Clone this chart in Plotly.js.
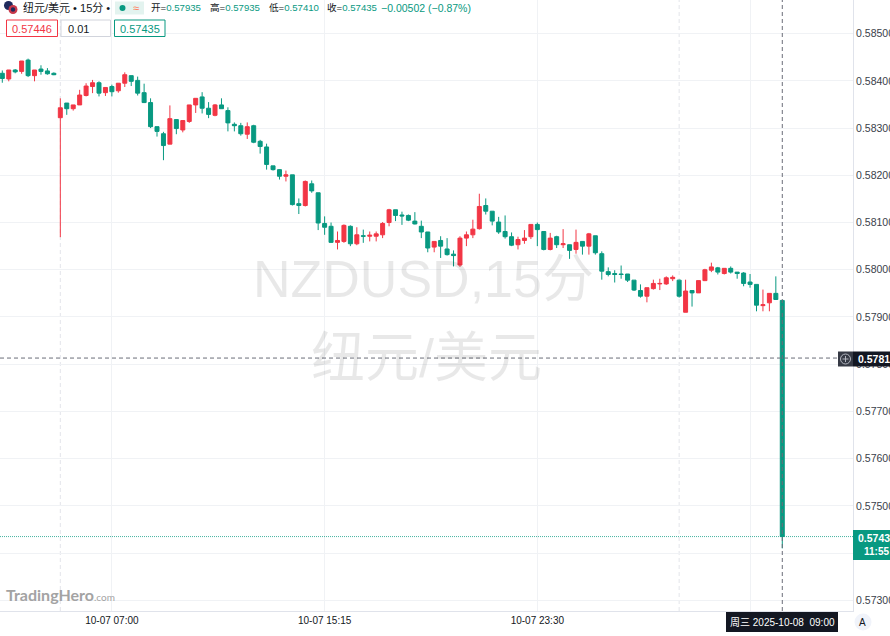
<!DOCTYPE html>
<html><head><meta charset="utf-8">
<script src="https://cdn.plot.ly/plotly-3.0.1.min.js"></script>
<style>html,body{margin:0;padding:0;background:#fff;overflow:hidden}#chart{width:890px;height:636px}</style>
</head><body><div id="chart"></div>
<script>
// ---------------- data ----------------
const startTime = '2025-10-07 02:45';
const barMinutes = 15;

const openP = [0.58416,0.58404,0.58423,0.58420,0.58444,0.58411,0.58425,0.58421,0.58416,0.58322,
0.58353,0.58341,0.58349,0.58369,0.58388,0.58396,0.58375,0.58388,0.58379,0.58395,
0.58411,0.58401,0.58375,0.58354,0.58303,0.58288,0.58266,0.58318,0.58296,0.58314,
0.58349,0.58366,0.58342,0.58327,0.58349,0.58337,0.58308,0.58305,0.58287,0.58305,
0.58272,0.58260,0.58220,0.58212,0.58198,0.58201,0.58140,0.58136,0.58182,0.58163,
0.58098,0.58092,0.58058,0.58060,0.58092,0.58055,0.58072,0.58071,0.58071,0.58074,
0.58100,0.58127,0.58116,0.58115,0.58103,0.58092,0.58080,0.58048,0.58062,0.58044,
0.58033,0.58010,0.58067,0.58074,0.58087,0.58136,0.58124,0.58101,0.58081,0.58070,
0.58053,0.58062,0.58070,0.58096,0.58081,0.58043,0.58070,0.58053,0.58053,0.58043,
0.58060,0.58050,0.58072,0.58034,0.57996,0.57992,0.57991,0.57991,0.57978,0.57956,
0.57944,0.57960,0.57970,0.57970,0.57981,0.57978,0.57910,0.57956,0.57951,0.57977,
0.57999,0.58004,0.57992,0.58003,0.57995,0.57993,0.57974,0.57969,0.57924,0.57930,
0.57950,0.57935];

const highP = [0.58422,0.58423,0.58425,0.58442,0.58447,0.58423,0.58433,0.58427,0.58418,0.58363,
0.58353,0.58349,0.58381,0.58395,0.58402,0.58399,0.58386,0.58392,0.58395,0.58418,
0.58411,0.58409,0.58394,0.58363,0.58303,0.58292,0.58348,0.58318,0.58316,0.58349,
0.58363,0.58376,0.58355,0.58351,0.58363,0.58344,0.58312,0.58311,0.58312,0.58307,
0.58275,0.58267,0.58220,0.58213,0.58210,0.58201,0.58151,0.58189,0.58189,0.58163,
0.58113,0.58100,0.58081,0.58096,0.58094,0.58090,0.58085,0.58081,0.58081,0.58101,
0.58129,0.58127,0.58123,0.58117,0.58122,0.58104,0.58080,0.58060,0.58071,0.58067,
0.58041,0.58071,0.58081,0.58106,0.58161,0.58151,0.58124,0.58112,0.58115,0.58079,
0.58070,0.58084,0.58096,0.58100,0.58081,0.58078,0.58072,0.58086,0.58053,0.58085,
0.58060,0.58078,0.58072,0.58039,0.58005,0.57999,0.58009,0.57991,0.57978,0.57969,
0.57962,0.57979,0.57981,0.57986,0.57988,0.57979,0.57979,0.57956,0.57977,0.58002,
0.58015,0.58006,0.58003,0.58007,0.57995,0.57995,0.57991,0.57969,0.57958,0.57950,
0.57986,0.57935];

const lowP = [0.58396,0.58399,0.58416,0.58415,0.58408,0.58399,0.58413,0.58413,0.58412,0.58069,
0.58328,0.58337,0.58349,0.58367,0.58374,0.58367,0.58368,0.58367,0.58375,0.58387,
0.58389,0.58369,0.58353,0.58300,0.58282,0.58232,0.58266,0.58287,0.58291,0.58311,
0.58332,0.58331,0.58321,0.58325,0.58341,0.58293,0.58293,0.58284,0.58277,0.58268,
0.58246,0.58212,0.58210,0.58191,0.58187,0.58136,0.58118,0.58134,0.58163,0.58084,
0.58074,0.58057,0.58043,0.58057,0.58050,0.58052,0.58057,0.58060,0.58060,0.58067,
0.58092,0.58103,0.58095,0.58103,0.58096,0.58067,0.58037,0.58037,0.58025,0.58030,
0.58007,0.58006,0.58050,0.58067,0.58085,0.58117,0.58094,0.58076,0.58066,0.58050,
0.58043,0.58055,0.58065,0.58050,0.58041,0.58041,0.58046,0.58046,0.58023,0.58034,
0.58032,0.58032,0.58032,0.57979,0.57986,0.57973,0.57981,0.57974,0.57955,0.57941,
0.57931,0.57958,0.57957,0.57968,0.57976,0.57941,0.57910,0.57922,0.57951,0.57976,
0.57995,0.57990,0.57990,0.57992,0.57981,0.57965,0.57962,0.57912,0.57912,0.57912,
0.57936,0.57410];

const closeP = [0.58405,0.58423,0.58419,0.58442,0.58411,0.58423,0.58420,0.58415,0.58413,0.58343,
0.58341,0.58349,0.58370,0.58389,0.58396,0.58374,0.58386,0.58377,0.58395,0.58413,
0.58399,0.58374,0.58354,0.58303,0.58293,0.58263,0.58320,0.58299,0.58316,0.58349,
0.58363,0.58342,0.58329,0.58349,0.58341,0.58311,0.58305,0.58288,0.58303,0.58270,
0.58261,0.58223,0.58212,0.58198,0.58201,0.58138,0.58136,0.58187,0.58167,0.58099,
0.58090,0.58058,0.58062,0.58094,0.58055,0.58074,0.58071,0.58073,0.58076,0.58098,
0.58127,0.58115,0.58114,0.58105,0.58097,0.58080,0.58046,0.58060,0.58050,0.58032,
0.58030,0.58067,0.58074,0.58086,0.58134,0.58124,0.58103,0.58080,0.58070,0.58052,
0.58064,0.58067,0.58096,0.58085,0.58043,0.58067,0.58053,0.58055,0.58041,0.58058,
0.58050,0.58076,0.58036,0.57997,0.57990,0.57990,0.57990,0.57978,0.57957,0.57944,
0.57962,0.57971,0.57971,0.57983,0.57984,0.57944,0.57955,0.57951,0.57977,0.58000,
0.58006,0.57995,0.58003,0.57995,0.57992,0.57971,0.57969,0.57925,0.57926,0.57950,
0.57937,0.57435];

const xTickVals = ['2025-10-07 07:00','2025-10-07 15:15','2025-10-07 23:30','2025-10-08 07:45'];
const xTickText = ['10-07 07:00','10-07 15:15','10-07 23:30',''];
const sessionStarts = ['2025-10-07 05:00','2025-10-08 05:00'];
const crosshairPrice = 0.57813;
const crosshairLabel = '周三 2025-10-08  09:00';
const bidPrice = '0.57446', spreadText = '0.01', askPrice = '0.57435';
const countdown = '11:55';
const symbolText = '纽元/美元 • 15分 •';
const watermark1 = 'NZDUSD,15分', watermark2 = '纽元/美元';

// ---------------- build ----------------
function buildTimes(n){
  const [d,t] = startTime.split(' ');
  const [Y,M,D] = d.split('-').map(Number), [h,m] = t.split(':').map(Number);
  const t0 = Date.UTC(Y,M-1,D,h,m);
  const p = v => String(v).padStart(2,'0');
  const out = [];
  for(let i=0;i<n;i++){
    const dt = new Date(t0 + i*barMinutes*60000);
    out.push(dt.getUTCFullYear()+'-'+p(dt.getUTCMonth()+1)+'-'+p(dt.getUTCDate())+' '+p(dt.getUTCHours())+':'+p(dt.getUTCMinutes()));
  }
  return out;
}
const times = buildTimes(closeP.length);
const N = closeP.length;
const UP = '#f23645', DOWN = '#089981', DARK = '#131722';
const FONT = '"Liberation Sans", "Noto Sans CJK SC", sans-serif';

// pixel helpers (plot area 853 x 611 at top-left)
const PW = 853, PH = 611;
const X = px => px/PW, Y = py => 1 - py/PH;

const lastO = openP[N-1], lastH = highP[N-1], lastL = lowP[N-1], lastC = closeP[N-1];
const chg = lastC - closeP[N-2];
const chgPct = chg/closeP[N-2]*100;
const fmt = v => v.toFixed(5);
const minus = s => s.replace('-', '−');

const trace = {
  type:'candlestick', x:times, open:openP, high:highP, low:lowP, close:closeP,
  increasing:{line:{color:UP,width:1}, fillcolor:UP},
  decreasing:{line:{color:DOWN,width:1}, fillcolor:DOWN},
  whiskerwidth:0, hoverinfo:'skip', showlegend:false
};

function ann(text, x, y, o){
  o = o || {};
  return Object.assign({text:text, xref:'paper', yref:'paper', x:X(x), y:Y(y),
    xanchor:'left', yanchor:'middle', showarrow:false, borderpad:0,
    font:{family:FONT, size:11, color:DARK}}, o);
}
function rect(x0,y0,x1,y1,fill,line){
  return {type:'rect', xref:'paper', yref:'paper', x0:X(x0), x1:X(x1), y0:Y(y0), y1:Y(y1),
    fillcolor:fill, line:{color:line||'rgba(0,0,0,0)', width:line?1:0}, layer:'above'};
}
function circ(cx,cy,r,fill,line){
  return {type:'circle', xref:'paper', yref:'paper', x0:X(cx-r), x1:X(cx+r), y0:Y(cy+r), y1:Y(cy-r),
    fillcolor:fill, line:{color:line||'rgba(0,0,0,0)', width:line?1:0}, layer:'above'};
}

const shapes = [];
sessionStarts.forEach(s => {
  const i = times.indexOf(s);
  shapes.push({type:'line', xref:'x', yref:'paper', x0:i, x1:i, y0:0, y1:1,
    line:{color:'#e3e5ea', width:1, dash:'4px,3px'}, layer:'below'});
});
// last price dotted line
shapes.push({type:'line', xref:'paper', yref:'y', x0:0, x1:1, y0:lastC, y1:lastC,
  line:{color:'rgba(8,153,129,0.75)', width:1, dash:'1px,1px'}, layer:'above'});
// crosshair
shapes.push({type:'line', xref:'x', yref:'paper', x0:N-1, x1:N-1, y0:0, y1:1,
  line:{color:'#6a6d78', width:1, dash:'4px,3px'}, layer:'above'});
shapes.push({type:'line', xref:'paper', yref:'y', x0:0, x1:X(838), y0:crosshairPrice, y1:crosshairPrice,
  line:{color:'#6a6d78', width:1, dash:'4px,3px'}, layer:'above'});
// right price labels
shapes.push(rect(838,351.5,853,366.5,'#363a45'));
shapes.push(circ(845.5,359,5,'rgba(0,0,0,0)','#b2b5be'));
shapes.push({type:'line', xref:'paper', yref:'paper', x0:X(842.5), x1:X(848.5), y0:Y(359), y1:Y(359), line:{color:'#b2b5be', width:1}});
shapes.push({type:'line', xref:'paper', yref:'paper', x0:X(845.5), x1:X(845.5), y0:Y(356), y1:Y(362), line:{color:'#b2b5be', width:1}});
shapes.push(rect(853,351.5,895,366.5,DARK));
shapes.push(rect(853,530,895,560,DOWN));
// bottom crosshair time label
shapes.push(rect(726,612,838,632,DARK));
// "A" button
shapes.push(circ(863,622,8.5,'#f0f3fa'));
// header items
shapes.push(circ(8.5,5.5,4.5,'#1f2a5c'));
shapes.push(circ(13,9.5,4.5,'#c8384a'));
shapes.push(circ(13,9.5,2.2,'#1f2a5c'));
shapes.push(rect(115,1.5,144,14.5,'#e3f3ef'));
shapes.push(circ(122.5,8,3,DOWN));
shapes.push(rect(6.5,20,57.5,36.5,'#ffffff',UP));
shapes.push(rect(61,20,110.5,36.5,'#ffffff','#d1d4dc'));
shapes.push(rect(114.5,20,165,36.5,'#ffffff',DOWN));

const G = s => '<span style="color:'+DOWN+'">'+s+'</span>';
const annotations = [
  // watermark
  ann(watermark1, 423.5, 278.5, {xanchor:'center', font:{family:FONT, size:52, color:'rgba(0,0,0,0.09)'}}),
  ann(watermark2, 426.5, 358, {xanchor:'center', font:{family:FONT, size:54, color:'rgba(0,0,0,0.09)'}}),
  // header
  ann(symbolText, 22, 8, {font:{family:FONT, size:11, color:DARK}}),
  ann('≈', 136, 8, {xanchor:'center', font:{family:FONT, size:11, color:'#ff7a59'}}),
  ann('开='+G(fmt(lastO)), 149.5, 8, {font:{family:FONT, size:9.6, color:DARK}}),
  ann('高='+G(fmt(lastH)), 208.5, 8, {font:{family:FONT, size:9.6, color:DARK}}),
  ann('低='+G(fmt(lastL)), 267.5, 8, {font:{family:FONT, size:9.6, color:DARK}}),
  ann('收='+G(fmt(lastC)), 326, 8, {font:{family:FONT, size:9.6, color:DARK}}),
  ann(G(minus(chg.toFixed(5))+' ('+minus(chgPct.toFixed(2))+'%)'), 379.5, 8, {font:{family:FONT, size:10.5, color:DARK}}),
  ann(bidPrice, 32, 28.5, {xanchor:'center', font:{family:FONT, size:11, color:UP}}),
  ann(spreadText, 66.5, 28.5, {font:{family:FONT, size:11, color:DARK}}),
  ann(askPrice, 139.7, 28.5, {xanchor:'center', font:{family:FONT, size:11, color:DOWN}}),
  // right price labels
  ann('<b>'+fmt(crosshairPrice)+'</b>', 856.5, 359, {font:{family:FONT, size:10.5, color:'#ffffff'}}),
  ann('<b>'+fmt(lastC)+'</b>', 856.5, 537.5, {font:{family:FONT, size:10.5, color:'#ffffff'}}),
  ann('<b>'+countdown+'</b>', 876, 551.5, {xanchor:'center', font:{family:FONT, size:10, color:'#ffffff'}}),
  // bottom labels
  ann(crosshairLabel, 782, 622, {xanchor:'center', font:{family:FONT, size:10, color:'#ffffff'}}),
  ann('A', 863, 622, {xanchor:'center', font:{family:FONT, size:10, color:DARK}}),
  // logo
  ann('<b>TradingHero</b><span style="font-size:10px">.com</span>', 5, 594, {font:{family:'Lato, "Liberation Sans", sans-serif', size:16, color:'#a3a3a3'}})
];

const layout = {
  width:890, height:636,
  margin:{l:0, r:37, t:0, b:25, pad:0},
  paper_bgcolor:'#ffffff', plot_bgcolor:'#ffffff',
  font:{family:FONT, size:10, color:DARK},
  showlegend:false,
  boxgap:0.38, boxgroupgap:0,
  xaxis:{type:'category', range:[-0.357, 131.97], tickmode:'array', tickvals:xTickVals, ticktext:xTickText,
    showgrid:true, gridcolor:'#f0f2f5', gridwidth:1, zeroline:false,
    showline:true, linecolor:'#e0e3eb', linewidth:1, ticks:'', ticklen:0,
    tickfont:{family:FONT, size:10, color:DARK}, rangeslider:{visible:false}, fixedrange:true},
  yaxis:{side:'right', range:[0.572774, 0.585712], tick0:0.573, dtick:0.001, tickformat:'.5f',
    showgrid:true, gridcolor:'#f0f2f5', gridwidth:1, zeroline:false,
    showline:true, linecolor:'#e0e3eb', linewidth:1,
    ticks:'', ticklen:0,
    tickfont:{family:FONT, size:10.5, color:'#3a3e4a'}, fixedrange:true},
  shapes:shapes, annotations:annotations
};

Plotly.newPlot('chart', [trace], layout, {staticPlot:true, displayModeBar:false});
</script></body></html>
